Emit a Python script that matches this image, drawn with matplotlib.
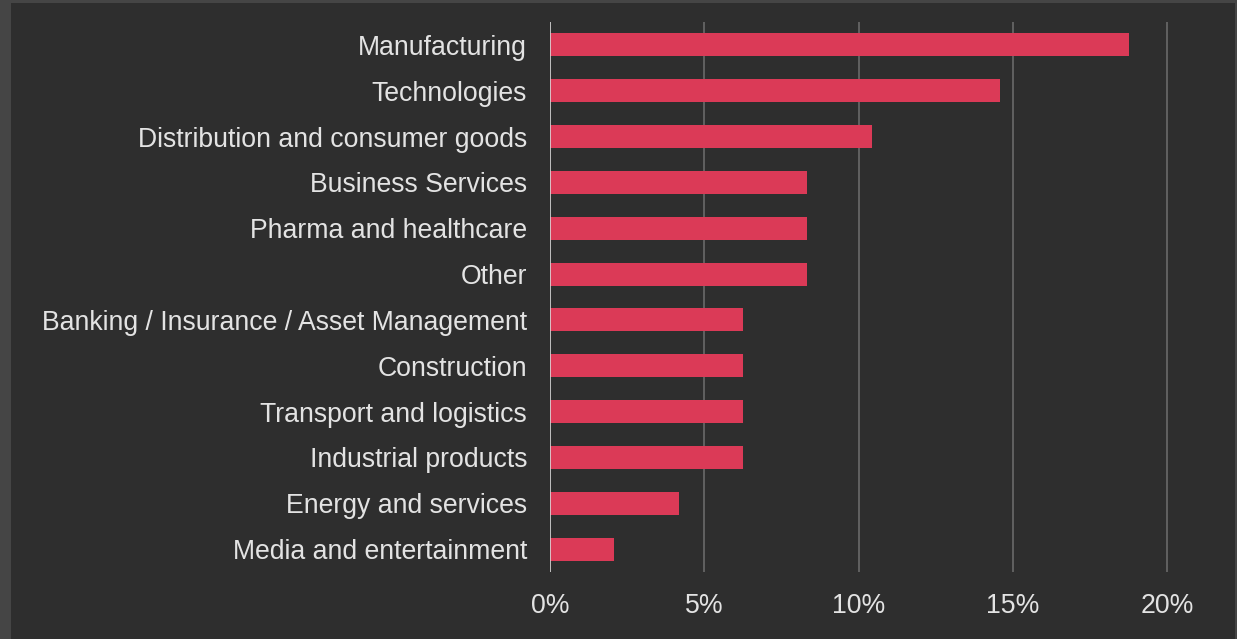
import numpy as np
import matplotlib.pyplot as plt
from matplotlib.patches import Rectangle
from matplotlib.ticker import FuncFormatter

sectors = [
    "Manufacturing",
    "Technologies",
    "Distribution and consumer goods",
    "Business Services",
    "Pharma and healthcare",
    "Other",
    "Banking / Insurance / Asset Management",
    "Construction",
    "Transport and logistics",
    "Industrial products",
    "Energy and services",
    "Media and entertainment",
]
share_pct = [18.75, 14.58, 10.42, 8.33, 8.33, 8.33, 6.25, 6.25, 6.25, 6.25, 4.17, 2.08]
x_ticks = [0, 5, 10, 15, 20]

BG_OUTER = "#454545"
BG_INNER = "#2e2e2e"
BAR = "#db3a57"
TEXT = "#e3e3e3"

plt.rcParams["font.family"] = ["Liberation Sans", "DejaVu Sans"]

fig = plt.figure(figsize=(12.37, 6.39), dpi=100)
fig.patch.set_facecolor(BG_OUTER)
# inner dark panel, leaving a lighter frame on the left, top and right
fig.patches.append(Rectangle((11 / 1237, 0), (1235 - 11) / 1237, (639 - 3) / 639,
                             transform=fig.transFigure, facecolor=BG_INNER,
                             edgecolor="none", zorder=-1))

ax = fig.add_axes([550 / 1237, (639 - 572) / 639, (1198 - 550) / 1237, (572 - 22) / 639])
ax.set_facecolor("none")
ax.set_zorder(1)

y = np.arange(len(sectors))
ax.barh(y, share_pct, height=0.5, color=BAR, zorder=3)
ax.set_ylim(len(sectors) - 0.5, -0.5)
ax.set_xlim(0, 21)

ax.set_yticks(y)
ax.set_yticklabels(sectors)
ax.set_xticks(x_ticks)
ax.xaxis.set_major_formatter(FuncFormatter(lambda v, _: f"{v:.0f}%"))
ax.tick_params(axis="y", length=0, pad=16.5, labelsize=19.2, labelcolor=TEXT)
ax.tick_params(axis="x", length=0, pad=15, labelsize=19.2, labelcolor=TEXT)

for v in x_ticks[1:]:
    ax.axvline(v, color="#6a6a6a", lw=1.2, zorder=1)
ax.axvline(0, color="#d9d9d9", lw=1.2, zorder=4)

for s in ax.spines.values():
    s.set_visible(False)

fig.savefig("out.png", dpi=100, facecolor=fig.get_facecolor())
